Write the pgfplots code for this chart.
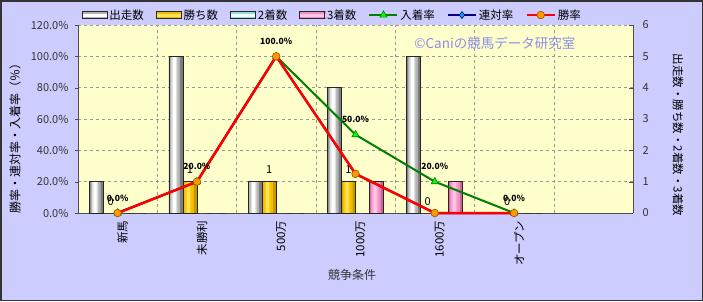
\documentclass[border=0pt]{standalone}
\usepackage{pgfplots}
\usepackage{pgfplotstable}
\pgfplotsset{compat=1.18}
\pgfkeys{/pgf/number format/assume math mode=true}
\usepackage{fontspec}
\setmainfont{Noto Sans CJK JP}
\definecolor{outerbg}{RGB}{204,204,255}
\definecolor{plotbg}{RGB}{255,255,204}
\definecolor{wmark}{RGB}{140,140,235}
\definecolor{grA}{RGB}{125,125,125}
\definecolor{grB}{RGB}{180,180,180}
\definecolor{grC}{RGB}{225,225,225}
\definecolor{grD}{RGB}{255,255,255}
\definecolor{goA}{RGB}{200,150,0}
\definecolor{goB}{RGB}{240,190,0}
\definecolor{goC}{RGB}{255,206,10}
\definecolor{goD}{RGB}{255,225,90}
\definecolor{cyA}{RGB}{90,180,180}
\definecolor{cyB}{RGB}{150,220,220}
\definecolor{cyC}{RGB}{200,245,245}
\definecolor{cyD}{RGB}{240,255,255}
\definecolor{piA}{RGB}{200,100,150}
\definecolor{piB}{RGB}{240,145,195}
\definecolor{piC}{RGB}{255,165,210}
\definecolor{piD}{RGB}{255,200,228}
\definecolor{placeG}{RGB}{0,128,0}
\definecolor{placeF}{RGB}{0,255,0}
\definecolor{navyL}{RGB}{0,0,128}
\definecolor{winF}{RGB}{255,153,0}
\definecolor{winD}{RGB}{150,80,0}
\pgfplotstableread{
x starts wins second third place rentai win
0 1 0 0 0 0   0   0
1 5 1 0 0 20  20  20
2 1 1 0 0 100 100 100
3 4 1 0 1 50  25  25
4 5 0 0 1 20  0   0
5 0 0 0 0 0   0   0
}\racedata
\pgfplotsset{
  lay/.style n args={3}{ybar, draw=none, bar width=#1, bar shift=#2, fill=#3},
  outl/.style={ybar, draw=black!85, line width=0.8pt, fill=none, bar width=14pt},
}
\newcommand\barlegend[4]{\addlegendimage{legend image code/.code={%
  \fill[#1] (0pt,-3.5pt) rectangle (25pt,3.5pt);
  \fill[#2] (0pt,-2.5pt) rectangle (25pt,2.5pt);
  \fill[#3] (0pt,-1.5pt) rectangle (25pt,1.2pt);
  \fill[#4] (0pt,-0.8pt) rectangle (25pt,0.4pt);
  \draw[black!85, line width=0.8pt] (0pt,-3.5pt) rectangle (25pt,3.5pt);}}}
\begin{document}
\begin{tikzpicture}
\fill[outerbg] (0,0) rectangle (703pt,301pt);
\begin{axis}[
  at={(78pt,88pt)}, anchor=south west,
  scale only axis, width=555pt, height=188pt,
  xmin=-0.5, xmax=6.5, ymin=0, ymax=6,
  axis background/.style={fill=plotbg},
  axis x line*=bottom, axis y line*=right,
  axis line style={draw=black!70, line width=0.8pt},
  xtick={0,...,5},
  xticklabels={新馬,未勝利,500万,1000万,1600万,オープン},
  major x tick style={draw=none},
  minor xtick={0.5,1.5,2.5,3.5,4.5,5.5},
  minor x tick style={draw=none},
  xminorgrids=true, ymajorgrids=true,
  grid style={dashed, draw=black!40, line width=0.4pt},
  ytick={0,...,6},
  tick align=inside, major tick length=4pt,
  ytick style={draw=black!70},
  tick label style={font=\fontsize{11}{12}\selectfont, text=black!80},
  yticklabel style={xshift=6pt},
  xticklabel style={rotate=90, anchor=east, font=\fontsize{11.5}{12}\selectfont, text=black, yshift=-5pt},
  ylabel={出走数・勝ち数・2着数・3着数},
  every axis y label/.style={at={(axis description cs:1.081,0.415)}, rotate=-90, anchor=center, font=\fontsize{11.5}{12}\selectfont},
  xlabel={競争条件},
  every axis x label/.style={at={(axis description cs:0.494,-0.33)}, anchor=center, font=\fontsize{12}{13}\selectfont, text=black!80},
  ybar,
]
% 出走数 (layered fills give a cylinder look)
\addplot[lay={14pt}{-21pt}{grA}] table[x=x,y=starts]{\racedata};
\addplot[lay={10pt}{-22pt}{grB}] table[x=x,y=starts]{\racedata};
\addplot[lay={6pt}{-22.5pt}{grC}] table[x=x,y=starts]{\racedata};
\addplot[lay={3pt}{-22.5pt}{grD}] table[x=x,y=starts]{\racedata};
\addplot[outl, bar shift=-21pt] table[x=x,y=starts]{\racedata};
% 勝ち数
\addplot[lay={14pt}{-7pt}{goA}] table[x=x,y=wins]{\racedata};
\addplot[lay={10pt}{-8pt}{goB}] table[x=x,y=wins]{\racedata};
\addplot[lay={6pt}{-8.5pt}{goC}] table[x=x,y=wins]{\racedata};
\addplot[lay={3pt}{-8.5pt}{goD}] table[x=x,y=wins]{\racedata};
\addplot[outl, bar shift=-7pt,
  nodes near coords, every node near coord/.append style={font=\fontsize{11}{12}\selectfont, text=black, yshift=4pt}]
  table[x=x,y=wins]{\racedata};
% 2着数
\addplot[lay={14pt}{7pt}{cyA}] table[x=x,y=second]{\racedata};
\addplot[lay={10pt}{6pt}{cyB}] table[x=x,y=second]{\racedata};
\addplot[lay={6pt}{5.5pt}{cyC}] table[x=x,y=second]{\racedata};
\addplot[lay={3pt}{5.5pt}{cyD}] table[x=x,y=second]{\racedata};
\addplot[outl, bar shift=7pt] table[x=x,y=second]{\racedata};
% 3着数
\addplot[lay={14pt}{21pt}{piA}] table[x=x,y=third]{\racedata};
\addplot[lay={10pt}{20pt}{piB}] table[x=x,y=third]{\racedata};
\addplot[lay={6pt}{19.5pt}{piC}] table[x=x,y=third]{\racedata};
\addplot[lay={3pt}{19.5pt}{piD}] table[x=x,y=third]{\racedata};
\addplot[outl, bar shift=21pt] table[x=x,y=third]{\racedata};
\end{axis}
\begin{axis}[
  at={(78pt,88pt)}, anchor=south west,
  scale only axis, width=555pt, height=188pt,
  xmin=-0.5, xmax=6.5, ymin=0, ymax=120,
  axis x line=none, axis y line*=left,
  axis line style={draw=black!70, line width=0.8pt},
  ytick={0,20,...,120},
  tick align=outside, major tick length=3pt,
  ytick style={draw=black!70},
  yticklabel={\pgfmathprintnumber[fixed,fixed zerofill,precision=1]{\tick}\%},
  tick label style={font=\fontsize{11}{12}\selectfont, text=black!80},
  yticklabel style={xshift=-3pt},
  ylabel={勝率・連対率・入着率（％）},
  every axis y label/.style={at={(axis description cs:-0.1135,0.412)}, rotate=90, anchor=center, font=\fontsize{12}{13}\selectfont},
  legend style={at={(axis description cs:0.006,1.053)}, anchor=west, draw=none, fill=none,
    font=\fontsize{11.5}{12}\selectfont, inner sep=0pt,
    /tikz/every even column/.append style={column sep=10pt}},
  legend columns=-1,
  legend image code/.code={\draw[mark repeat=2,mark phase=2,#1] plot coordinates {(0pt,0pt) (14pt,0pt) (28pt,0pt)};},
  clip=false,
]
\barlegend{grA}{grB}{grC}{grD}
\addlegendentry{出走数}
\barlegend{goA}{goB}{goC}{goD}
\addlegendentry{勝ち数}
\barlegend{cyA}{cyB}{cyC}{cyD}
\addlegendentry{2着数}
\barlegend{piA}{piB}{piC}{piD}
\addlegendentry{3着数}
\addplot[color=placeG, line width=2pt, mark=triangle*, mark size=4.2pt, mark options={fill=placeF, draw=placeG, line width=0.6pt},
  nodes near coords={\pgfmathprintnumber[fixed,fixed zerofill,precision=1]{\pgfplotspointmeta}\%},
  every node near coord/.append style={font=\bfseries\fontsize{8.5}{9}\selectfont, text=black, yshift=8pt}]
  table[x=x,y=place]{\racedata};
\addlegendentry{入着率}
\addplot[color=navyL, line width=2pt, mark=diamond*, mark size=3.5pt, mark options={fill=cyan, draw=navyL, line width=0.6pt}]
  table[x=x,y=rentai]{\racedata};
\addlegendentry{連対率}
\addplot[color=red, line width=2.5pt, mark=*, mark size=3.8pt, mark options={fill=winF, draw=winD, line width=0.6pt}]
  table[x=x,y=win]{\racedata};
\addlegendentry{勝率}
\node[text=wmark, font=\fontsize{13.5}{14}\selectfont] at (axis description cs:0.751,0.904) {©Caniの競馬データ研究室};
\end{axis}
\draw[black!80, line width=1.5pt] (0.75pt,0.75pt) rectangle (702.25pt,300.25pt);
\pgfresetboundingbox
\useasboundingbox (0,0) rectangle (703pt,301pt);
\end{tikzpicture}
\end{document}
